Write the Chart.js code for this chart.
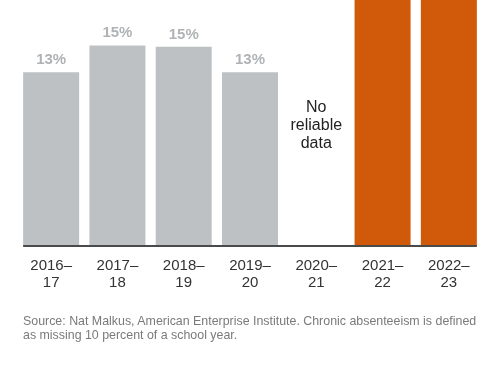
<!DOCTYPE html>
<html>
<head>
<meta charset="utf-8">
<script src="https://cdn.jsdelivr.net/npm/chart.js@4.4.0/dist/chart.umd.min.js"></script>
<style>
  html, body { margin: 0; padding: 0; background: #fff; }
  #wrap { position: relative; width: 500px; height: 380px; }
  #source {
    position: absolute; left: 23px; top: 314px; width: 455px;
    font-family: 'Liberation Sans', Arial, sans-serif; font-size: 12.4px;
    line-height: 14px; color: #7a7a7a;
  }
</style>
</head>
<body>
<div id="wrap">
  <canvas id="chart" width="500" height="380"></canvas>
  <div id="source">Source: Nat Malkus, American Enterprise Institute. Chronic absenteeism is defined as missing 10 percent of a school year.</div>
</div>
<script>
// school years and chronic absenteeism rate (%)
const years = [['2016–', '17'], ['2017–', '18'], ['2018–', '19'], ['2019–', '20'], ['2020–', '21'], ['2021–', '22'], ['2022–', '23']];
const rates = [13, 15, 14.9, 13, null, 28, 26];
const postPandemic = [false, false, false, false, false, true, true];
const noDataText = ['No', 'reliable', 'data'];
const yMax = 18.4;

const FONT = "'Liberation Sans', Arial, sans-serif";

// ----- labels above bars + "no data" note -----
const labelsPlugin = {
  id: 'barLabels',
  afterDatasetsDraw(chart) {
    const ctx = chart.ctx;
    const meta = chart.getDatasetMeta(0);
    ctx.save();
    ctx.textAlign = 'center';
    meta.data.forEach((bar, i) => {
      const v = rates[i];
      if (v == null) {
        ctx.fillStyle = '#222';
        ctx.font = '16px ' + FONT;
        ctx.textBaseline = 'middle';
        noDataText.forEach((t, k) => ctx.fillText(t, bar.x, 108 + k * 18));
        return;
      }
      if (v > yMax) return; // runs off the top, no label
      ctx.fillStyle = '#b0b3b5';
      ctx.font = 'bold 15px ' + FONT;
      ctx.textBaseline = 'alphabetic';
      ctx.fillText(Math.round(v) + '%', bar.x, bar.y - 8);
    });
    ctx.restore();
  }
};

// ----- baseline under the bars only -----
const baselinePlugin = {
  id: 'baseline',
  afterDatasetsDraw(chart) {
    const meta = chart.getDatasetMeta(0);
    const first = meta.data[0], last = meta.data[meta.data.length - 1];
    const ctx = chart.ctx;
    ctx.save();
    ctx.strokeStyle = '#4a4a4a';
    ctx.lineWidth = 2;
    ctx.beginPath();
    ctx.moveTo(first.x - first.width / 2, chart.chartArea.bottom);
    ctx.lineTo(last.x + last.width / 2, chart.chartArea.bottom);
    ctx.stroke();
    ctx.restore();
  }
};

new Chart(document.getElementById('chart').getContext('2d'), {
  type: 'bar',
  data: {
    labels: years,
    datasets: [{
      data: rates,
      backgroundColor: postPandemic.map(p => p ? '#d15a0a' : '#bdc1c3'),
      categoryPercentage: 1,
      barPercentage: 0.845
    }]
  },
  options: {
    responsive: false,
    animation: false,
    layout: { padding: { left: 18, right: 18, top: 0, bottom: 78 } },
    plugins: { legend: { display: false }, tooltip: { enabled: false } },
    scales: {
      x: {
        grid: { display: false, drawTicks: false },
        border: { display: false },
        ticks: {
          color: '#333',
          padding: 11,
          maxRotation: 0,
          font: { family: FONT, size: 15, lineHeight: '17px' }
        }
      },
      y: { display: false, min: 0, max: yMax }
    }
  },
  plugins: [labelsPlugin, baselinePlugin]
});
</script>
</body>
</html>
